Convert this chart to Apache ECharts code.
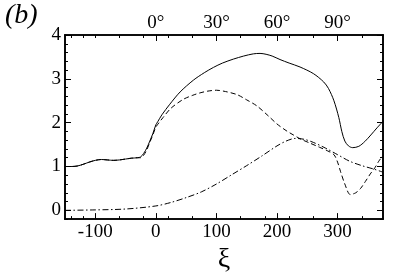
<!DOCTYPE html>
<html>
<head>
<meta charset="utf-8">
<script src="https://cdn.jsdelivr.net/npm/echarts@6/dist/echarts.min.js"></script>
<style>html,body{margin:0;padding:0;background:#fff;}#c{width:399px;height:279px;}</style>
</head>
<body>
<div id="c"></div>
<script>
// ---- data ----
const solidX = [-150,-140,-130,-120,-110,-100,-90,-80,-70,-60,-50,-40,-30,-25,-20,-15,-10,-5,0,3,10,23,40,62,80,95,110,128,145,161,172,182,192,205,220,238,260,277,285,294,302,307,312,318,325,335,345,355,365,375];
const solidY = [1.0,1.0,1.01,1.05,1.1,1.14,1.16,1.15,1.14,1.15,1.17,1.19,1.2,1.22,1.3,1.42,1.58,1.75,1.95,2.02,2.18,2.42,2.7,2.97,3.14,3.26,3.36,3.45,3.52,3.57,3.58,3.56,3.52,3.44,3.36,3.27,3.12,2.93,2.78,2.5,2.12,1.8,1.58,1.47,1.43,1.46,1.57,1.72,1.88,2.03];
const dashX = [-150,-140,-130,-120,-110,-100,-90,-80,-70,-60,-50,-40,-30,-25,-20,-15,-10,-5,0,3,12,25,45,60,73,86,100,115,134,150,167,186,200,215,227,240,255,270,283,294,300,305,312,321,330,338,346,354,362,368,375];
const dashY = [1.0,1.0,1.01,1.05,1.1,1.14,1.16,1.15,1.14,1.15,1.17,1.19,1.2,1.2,1.26,1.38,1.55,1.72,1.9,1.96,2.12,2.33,2.53,2.62,2.68,2.72,2.74,2.71,2.64,2.52,2.38,2.15,1.97,1.82,1.72,1.62,1.53,1.44,1.36,1.27,1.1,0.88,0.6,0.36,0.4,0.5,0.66,0.83,0.98,1.12,1.25];
const dotX = [-150,-100,-50,0,25,50,75,100,125,150,175,200,215,230,245,260,280,300,320,340,360,375];
const dotY = [0.0,0.01,0.03,0.1,0.18,0.29,0.42,0.6,0.81,1.02,1.24,1.47,1.58,1.64,1.62,1.55,1.42,1.27,1.12,1.02,0.94,0.87];
const xMajor = [-100,0,100,200,300];
const xMinor = [-140,-120,-60,-20,20,60,140,180,220,260,340];
const topLabelValues = [0,100,200,300];
const topLabels = ['0°','30°','60°','90°'];
const yMajor = [0,1,2,3,4];
const yMinor = [-0.2,0.2,0.4,0.6,0.8,1.2,1.4,1.6,1.8,2.2,2.4,2.6,2.8,3.2,3.4,3.6,3.8];

const pair = (xs, ys) => xs.map((x, i) => [x, ys[i]]);
const FONT = 'Liberation Serif';
const black = '#000';

function xAx(pos, ticks, len, labels, extra) {
  return Object.assign({
    type: 'value', position: pos, min: -150, max: 375, gridIndex: 0,
    axisLine: { show: true, onZero: false, lineStyle: { color: black, width: 1.6 } },
    axisTick: { show: true, inside: true, length: len, customValues: ticks, lineStyle: { color: black, width: 1 } },
    axisLabel: labels ? labels : { show: false },
    splitLine: { show: false }
  }, extra || {});
}
function yAx(pos, ticks, len, labels) {
  return {
    type: 'value', position: pos, min: -0.2, max: 4, gridIndex: 0,
    axisLine: { show: true, onZero: false, lineStyle: { color: black, width: 1.6 } },
    axisTick: { show: true, inside: true, length: len, customValues: ticks, lineStyle: { color: black, width: 1 } },
    axisLabel: labels ? labels : { show: false },
    splitLine: { show: false }
  };
}

const chart = echarts.init(document.getElementById('c'), null, { renderer: 'canvas' });
chart.setOption({
  animation: false,
  backgroundColor: '#fff',
  grid: { left: 65, right: 16, top: 35, bottom: 54, containLabel: false },
  graphic: [{ type: 'text', left: 5, top: 2, style: { text: '(b)', font: 'italic 28px "Liberation Serif"', fill: black } }],
  xAxis: [
    xAx('bottom', xMajor, 6, { show: true, customValues: xMajor, fontSize: 19, fontFamily: FONT, color: black, margin: 3 },
      { name: 'ξ', nameLocation: 'middle', nameGap: 21, nameTextStyle: { fontSize: 28, fontFamily: FONT, color: black } }),
    xAx('bottom', xMinor, 3, null),
    xAx('top', topLabelValues, 6, { show: true, customValues: topLabelValues, fontSize: 19, fontFamily: FONT, color: black, margin: 2,
      formatter: v => topLabels[topLabelValues.indexOf(v)] }),
    xAx('top', xMinor.concat([-100]), 3, null)
  ],
  yAxis: [
    yAx('left', yMajor, 6, { show: true, customValues: yMajor, fontSize: 19, fontFamily: FONT, color: black, margin: 4 }),
    yAx('left', yMinor, 3, null),
    yAx('right', yMajor, 6, null),
    yAx('right', yMinor, 3, null)
  ],
  series: [
    { type: 'line', xAxisIndex: 0, yAxisIndex: 0, data: pair(solidX, solidY), showSymbol: false, smooth: 0.3,
      lineStyle: { color: black, width: 1, type: 'solid' } },
    { type: 'line', xAxisIndex: 0, yAxisIndex: 0, data: pair(dashX, dashY), showSymbol: false, smooth: 0.3,
      lineStyle: { color: black, width: 1, type: [5, 3] } },
    { type: 'line', xAxisIndex: 0, yAxisIndex: 0, data: pair(dotX, dotY), showSymbol: false, smooth: 0.3,
      lineStyle: { color: black, width: 1, type: [6, 2.5, 1.5, 2.5] } }
  ]
});
</script>
</body>
</html>
